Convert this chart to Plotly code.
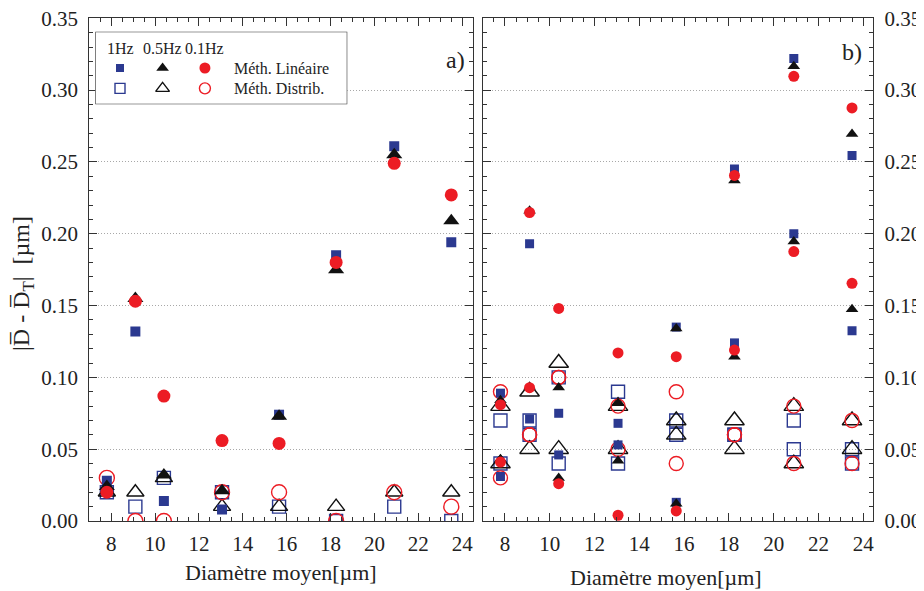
import plotly.graph_objects as go

# ---------------- data ----------------
diam = [7.8, 9.1, 10.4, 13.05, 15.65, 18.25, 20.9, 23.5]

# panel a) : Méth. Linéaire (filled) / Méth. Distrib. (open)
a_lin_1hz = [0.028, 0.132, 0.014, 0.008, 0.074, 0.185, 0.261, 0.194]
a_lin_05hz = [0.024, 0.155, 0.032, 0.021, 0.073, 0.175, 0.255, 0.209]
a_lin_01hz = [0.020, 0.153, 0.087, 0.056, 0.054, 0.180, 0.249, 0.227]
a_dis_1hz = [0.020, 0.010, 0.030, 0.020, 0.010, 0.000, 0.010, 0.000]
a_dis_05hz = [0.020, 0.020, 0.030, 0.010, 0.010, 0.010, 0.020, 0.020]
a_dis_01hz = [0.030, 0.000, 0.000, 0.020, 0.020, 0.000, 0.020, 0.010]

# panel b) : two sets of points per diameter
b_lin_1hz_s1 = [0.089, 0.193, 0.075, 0.068, 0.135, 0.245, 0.322, 0.2545]
b_lin_1hz_s2 = [0.031, 0.071, 0.046, 0.053, 0.013, 0.124, 0.200, 0.1325]
b_lin_05hz_s1 = [0.084, 0.216, 0.093, 0.082, 0.134, 0.237, 0.3166, 0.2695]
b_lin_05hz_s2 = [0.043, 0.0935, 0.030, 0.042, 0.012, 0.1144, 0.1946, 0.1474]
b_lin_01hz_s1 = [0.081, 0.2148, 0.148, 0.117, 0.1144, 0.2406, 0.3096, 0.2876]
b_lin_01hz_s2 = [0.041, 0.0928, 0.026, 0.004, 0.007, 0.119, 0.1876, 0.1655]
b_dis_1hz_s1 = [0.07, 0.07, 0.10, 0.09, 0.07, 0.06, 0.07, 0.05]
b_dis_1hz_s2 = [0.04, 0.06, 0.04, 0.04, 0.06, 0.06, 0.05, 0.04]
b_dis_05hz_s1 = [0.08, 0.09, 0.11, 0.08, 0.07, 0.07, 0.08, 0.07]
b_dis_05hz_s2 = [0.04, 0.05, 0.05, 0.05, 0.06, 0.05, 0.04, 0.05]
b_dis_01hz_s1 = [0.09, 0.06, 0.10, 0.08, 0.09, 0.06, 0.08, 0.07]
b_dis_01hz_s2 = [0.03, 0.06, 0.10, 0.05, 0.04, 0.06, 0.04, 0.04]

y_ticks = [0.00, 0.05, 0.10, 0.15, 0.20, 0.25, 0.30, 0.35]
freq_labels = ["1Hz", "0.5Hz", "0.1Hz"]
method_labels = ["Méth. Linéaire", "Méth. Distrib."]
x_title = "Diamètre moyen[µm]"
y_title = "|D\u0305 - D\u0305<sub>T</sub>|  [µm]"

# ---------------- style ----------------
BLUE = "#2b3990"
RED = "#ec1c24"
BLACK = "#111111"
AX = "#333333"
TXT = "#222222"
FONT = "'Liberation Serif', 'DejaVu Serif', serif"
# the page body has an 8px margin: the figure is drawn from (8, 8)
OFF = 8
W, H = 924 - OFF, 591 - OFF

fig = go.Figure()


def add(xa, ya, xs, ys, symbol, color, size, filled):
    fig.add_trace(go.Scatter(
        x=xs, y=ys, mode="markers", xaxis=xa, yaxis=ya, showlegend=False,
        hoverinfo="skip",
        marker=dict(symbol=symbol if filled else symbol + "-open",
                    color=color, size=size,
                    line=dict(width=0 if filled else 1.4, color=color)),
    ))


# panel a
add("x", "y", diam, a_dis_1hz, "square", BLUE, 13, False)
add("x", "y", diam, a_dis_05hz, "triangle-up", BLACK, 15, False)
add("x", "y", diam, a_dis_01hz, "circle", RED, 15, False)
add("x", "y", diam, a_lin_1hz, "square", BLUE, 10, True)
add("x", "y", diam, a_lin_05hz, "triangle-up", BLACK, 14, True)
add("x", "y", diam, a_lin_01hz, "circle", RED, 13, True)

# panel b
diam_b = diam + diam
add("x2", "y2", diam_b, b_dis_1hz_s1 + b_dis_1hz_s2, "square", BLUE, 13, False)
add("x2", "y2", diam_b, b_dis_05hz_s1 + b_dis_05hz_s2, "triangle-up", BLACK, 17, False)
add("x2", "y2", diam_b, b_dis_01hz_s1 + b_dis_01hz_s2, "circle", RED, 14, False)
add("x2", "y2", diam_b, b_lin_1hz_s1 + b_lin_1hz_s2, "square", BLUE, 9, True)
add("x2", "y2", diam_b, b_lin_05hz_s1 + b_lin_05hz_s2, "triangle-up", BLACK, 11, True)
add("x2", "y2", diam_b, b_lin_01hz_s1 + b_lin_01hz_s2, "circle", RED, 11, True)

# legend (own helper axes over the legend box)
leg_col = [0.098, 0.267, 0.435]
leg_row = [0.50, 0.22]
leg_head = 0.77
leg_text_x = 0.541
leg_syms = ["square", "triangle-up", "circle"]
leg_cols = [BLUE, BLACK, RED]
leg_sizes = [[8, 11, 11], [10, 12, 11]]
for r, filled in enumerate([True, False]):
    for c in range(3):
        add("x3", "y3", [leg_col[c]], [leg_row[r]], leg_syms[c], leg_cols[c],
            leg_sizes[r][c], filled)


def px_x(p):
    return (p - OFF) / W


def px_y(p):
    return 1 - (p - OFF) / H


common_ax = dict(showline=True, linecolor=AX, linewidth=1, mirror="ticks",
                 ticks="inside", ticklen=8, tickcolor=AX, showgrid=False,
                 zeroline=False, automargin=False, ticklabeloverflow="allow",
                 tickfont=dict(family=FONT, size=21, color=TXT))

xa = dict(common_ax, dtick=2, tick0=0, ticklabelstandoff=4,
          minor=dict(ticks="inside", ticklen=4, dtick=0.5, tickcolor=AX))
ya = dict(common_ax, range=[0, 0.35], tickmode="array", tickvals=y_ticks,
          ticktext=[f"{v:.2f}" for v in y_ticks],
          ticklabelstandoff=6,
          showgrid=True, gridcolor="#a8a8a8", griddash="1px,2px", gridwidth=1,
          minor=dict(ticks="inside", ticklen=4, dtick=0.01, tick0=0, tickcolor=AX))

ydom = [px_y(521), px_y(18.3)]
fig.update_layout(
    width=W, height=H,
    margin=dict(l=0, r=0, t=0, b=0, autoexpand=False),
    paper_bgcolor="white", plot_bgcolor="white",
    font=dict(family=FONT, color=TXT),
    xaxis=dict(xa, domain=[px_x(89.3), px_x(473)], range=[7.0, 24.49], anchor="y"),
    yaxis=dict(ya, domain=ydom, anchor="x", side="left"),
    xaxis2=dict(xa, domain=[px_x(483), px_x(873.3)], range=[7.02, 24.45], anchor="y2"),
    yaxis2=dict(ya, domain=ydom, anchor="x2", side="right"),
    xaxis3=dict(domain=[px_x(95.3), px_x(347.3)], range=[0, 1], visible=False, anchor="y3"),
    yaxis3=dict(domain=[px_y(104.3), px_y(31.7)], range=[0, 1], visible=False, anchor="x3"),
    showlegend=False,
)

# legend box drawn in the helper subplot (below its markers, above panel grid)
fig.add_shape(type="rect", xref="x3", yref="y3", x0=0, x1=1, y0=0, y1=1,
              line=dict(color=AX, width=1.2), fillcolor="white", layer="below")

ann = []
for c in range(3):
    ann.append(dict(xref="x3", yref="y3", x=leg_col[c], y=leg_head, text=freq_labels[c],
                    showarrow=False, xanchor="center", yanchor="middle",
                    font=dict(family=FONT, size=16, color=TXT)))
for r in range(2):
    ann.append(dict(xref="x3", yref="y3", x=leg_text_x, y=leg_row[r], text=method_labels[r],
                    showarrow=False, xanchor="left", yanchor="middle",
                    font=dict(family=FONT, size=16, color=TXT)))

ann.append(dict(xref="paper", yref="paper", x=px_x(455), y=px_y(60), text="a)",
                showarrow=False, xanchor="center", yanchor="middle",
                font=dict(family=FONT, size=24, color=TXT)))
ann.append(dict(xref="paper", yref="paper", x=px_x(852), y=px_y(52), text="b)",
                showarrow=False, xanchor="center", yanchor="middle",
                font=dict(family=FONT, size=24, color=TXT)))
ann.append(dict(xref="paper", yref="paper", x=px_x(281), y=px_y(572), text=x_title,
                showarrow=False, xanchor="center", yanchor="middle",
                font=dict(family=FONT, size=22, color=TXT)))
ann.append(dict(xref="paper", yref="paper", x=px_x(666), y=px_y(577), text=x_title,
                showarrow=False, xanchor="center", yanchor="middle",
                font=dict(family=FONT, size=22, color=TXT)))
ann.append(dict(xref="paper", yref="paper", x=px_x(23), y=px_y(284), text=y_title,
                textangle=-90, showarrow=False, xanchor="center", yanchor="middle",
                font=dict(family=FONT, size=24, color=TXT)))
fig.update_layout(annotations=ann)

fig.write_html("out.html")
